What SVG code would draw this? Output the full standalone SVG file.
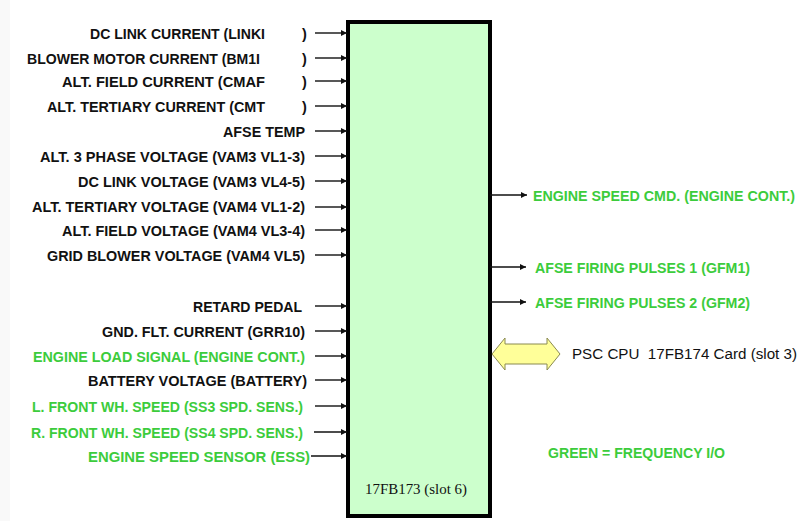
<svg xmlns="http://www.w3.org/2000/svg" width="799" height="521" viewBox="0 0 799 521">
<style>
.lb{font-family:"Liberation Sans",Arial,sans-serif;font-weight:bold;font-size:14.5px;fill:#111;}
.g{fill:#3ccc3c;}
.w{stroke:#111;stroke-width:1.4;fill:none;}
</style>
<defs>
<marker id="ah" viewBox="0 0 10 10" refX="10" refY="5" markerWidth="6" markerHeight="6" markerUnits="userSpaceOnUse" orient="auto">
<path d="M0,0 L10,5 L0,10 z" fill="#111"/>
</marker>
</defs>
<rect x="0" y="0" width="799" height="521" fill="#ffffff"/>
<rect x="0" y="0" width="10" height="521" fill="#f9f9f9"/>

<g id="card">
<rect x="348" y="22" width="142" height="494" fill="#ccffcc" stroke="#000" stroke-width="4"/>
<text x="416" y="494" text-anchor="middle" font-family="'Liberation Serif','Times New Roman',serif" font-size="14" fill="#111" textLength="102" lengthAdjust="spacingAndGlyphs">17FB173 (slot 6)</text>
</g>

<g id="labels-in">
<text class="lb" x="265" y="38.5" text-anchor="end" textLength="175" lengthAdjust="spacingAndGlyphs">DC LINK CURRENT (LINKI</text>
<text class="lb" x="302" y="38.5">)</text>
<text class="lb" x="260" y="63.5" text-anchor="end" textLength="233" lengthAdjust="spacingAndGlyphs">BLOWER MOTOR CURRENT (BM1I</text>
<text class="lb" x="302" y="63.5">)</text>
<text class="lb" x="265" y="86.5" text-anchor="end" textLength="203" lengthAdjust="spacingAndGlyphs">ALT. FIELD CURRENT (CMAF</text>
<text class="lb" x="302" y="86.5">)</text>
<text class="lb" x="265" y="111.5" text-anchor="end" textLength="218" lengthAdjust="spacingAndGlyphs">ALT. TERTIARY CURRENT (CMT</text>
<text class="lb" x="302" y="111.5">)</text>
<text class="lb" x="305" y="136.5" text-anchor="end" textLength="82" lengthAdjust="spacingAndGlyphs">AFSE TEMP</text>
<text class="lb" x="305" y="161.5" text-anchor="end" textLength="265" lengthAdjust="spacingAndGlyphs">ALT. 3 PHASE VOLTAGE (VAM3 VL1-3)</text>
<text class="lb" x="305" y="186.5" text-anchor="end" textLength="227" lengthAdjust="spacingAndGlyphs">DC LINK VOLTAGE (VAM3 VL4-5)</text>
<text class="lb" x="305" y="211.5" text-anchor="end" textLength="273" lengthAdjust="spacingAndGlyphs">ALT. TERTIARY VOLTAGE (VAM4 VL1-2)</text>
<text class="lb" x="305" y="235.5" text-anchor="end" textLength="243" lengthAdjust="spacingAndGlyphs">ALT. FIELD VOLTAGE (VAM4 VL3-4)</text>
<text class="lb" x="305" y="260.5" text-anchor="end" textLength="258" lengthAdjust="spacingAndGlyphs">GRID BLOWER VOLTAGE (VAM4 VL5)</text>
<text class="lb" x="302" y="311.5" text-anchor="end" textLength="109" lengthAdjust="spacingAndGlyphs">RETARD PEDAL</text>
<text class="lb" x="305" y="336.5" text-anchor="end" textLength="203" lengthAdjust="spacingAndGlyphs">GND. FLT. CURRENT (GRR10)</text>
<text class="lb g" x="305" y="361.5" text-anchor="end" textLength="272" lengthAdjust="spacingAndGlyphs">ENGINE LOAD SIGNAL (ENGINE CONT.)</text>
<text class="lb" x="307" y="385.5" text-anchor="end" textLength="219" lengthAdjust="spacingAndGlyphs">BATTERY VOLTAGE (BATTERY)</text>
<text class="lb g" x="303" y="411.5" text-anchor="end" textLength="271" lengthAdjust="spacingAndGlyphs">L. FRONT WH. SPEED (SS3 SPD. SENS.)</text>
<text class="lb g" x="303" y="437.5" text-anchor="end" textLength="272" lengthAdjust="spacingAndGlyphs">R. FRONT WH. SPEED (SS4 SPD. SENS.)</text>
<text class="lb g" x="310" y="461.5" text-anchor="end" textLength="222" lengthAdjust="spacingAndGlyphs">ENGINE SPEED SENSOR (ESS)</text>
</g>

<g id="labels-out">
<text class="lb g" x="533" y="200.5" textLength="262" lengthAdjust="spacingAndGlyphs">ENGINE SPEED CMD. (ENGINE CONT.)</text>
<text class="lb g" x="535" y="272.5" textLength="215" lengthAdjust="spacingAndGlyphs">AFSE FIRING PULSES 1 (GFM1)</text>
<text class="lb g" x="535" y="307.5" textLength="215" lengthAdjust="spacingAndGlyphs">AFSE FIRING PULSES 2 (GFM2)</text>
<text class="lb g" x="548" y="457.5" textLength="177" lengthAdjust="spacingAndGlyphs">GREEN = FREQUENCY I/O</text>
</g>

<g id="psc-cpu">
<polygon points="492,354 505,338 505,344 547,344 547,338 560,354 547,370 547,364 505,364 505,370" fill="#ffff99" stroke="#8a8a50" stroke-width="1"/>
<text x="572" y="358.5" xml:space="preserve" font-family="'Liberation Sans',Arial,sans-serif" font-size="14" fill="#111" textLength="225" lengthAdjust="spacingAndGlyphs">PSC CPU  17FB174 Card (slot 3)</text>
</g>

<g id="connectors">
<line class="w" x1="315" y1="33" x2="347" y2="33" marker-end="url(#ah)"/>
<line class="w" x1="315" y1="58" x2="347" y2="58" marker-end="url(#ah)"/>
<line class="w" x1="315" y1="81" x2="347" y2="81" marker-end="url(#ah)"/>
<line class="w" x1="315" y1="106" x2="347" y2="106" marker-end="url(#ah)"/>
<line class="w" x1="315" y1="131" x2="347" y2="131" marker-end="url(#ah)"/>
<line class="w" x1="315" y1="156" x2="347" y2="156" marker-end="url(#ah)"/>
<line class="w" x1="315" y1="181" x2="347" y2="181" marker-end="url(#ah)"/>
<line class="w" x1="315" y1="207" x2="347" y2="207" marker-end="url(#ah)"/>
<line class="w" x1="315" y1="230" x2="347" y2="230" marker-end="url(#ah)"/>
<line class="w" x1="315" y1="255" x2="347" y2="255" marker-end="url(#ah)"/>
<line class="w" x1="315" y1="306" x2="347" y2="306" marker-end="url(#ah)"/>
<line class="w" x1="315" y1="331" x2="347" y2="331" marker-end="url(#ah)"/>
<line class="w" x1="315" y1="356" x2="347" y2="356" marker-end="url(#ah)"/>
<line class="w" x1="315" y1="380" x2="347" y2="380" marker-end="url(#ah)"/>
<line class="w" x1="315" y1="406" x2="347" y2="406" marker-end="url(#ah)"/>
<line class="w" x1="314" y1="432" x2="347" y2="432" marker-end="url(#ah)"/>
<line class="w" x1="311" y1="456" x2="347" y2="456" marker-end="url(#ah)"/>
<line class="w" x1="490" y1="195" x2="527" y2="195" marker-end="url(#ah)"/>
<line class="w" x1="490" y1="267" x2="526" y2="267" marker-end="url(#ah)"/>
<line class="w" x1="490" y1="302" x2="526" y2="302" marker-end="url(#ah)"/>
</g>
</svg>
